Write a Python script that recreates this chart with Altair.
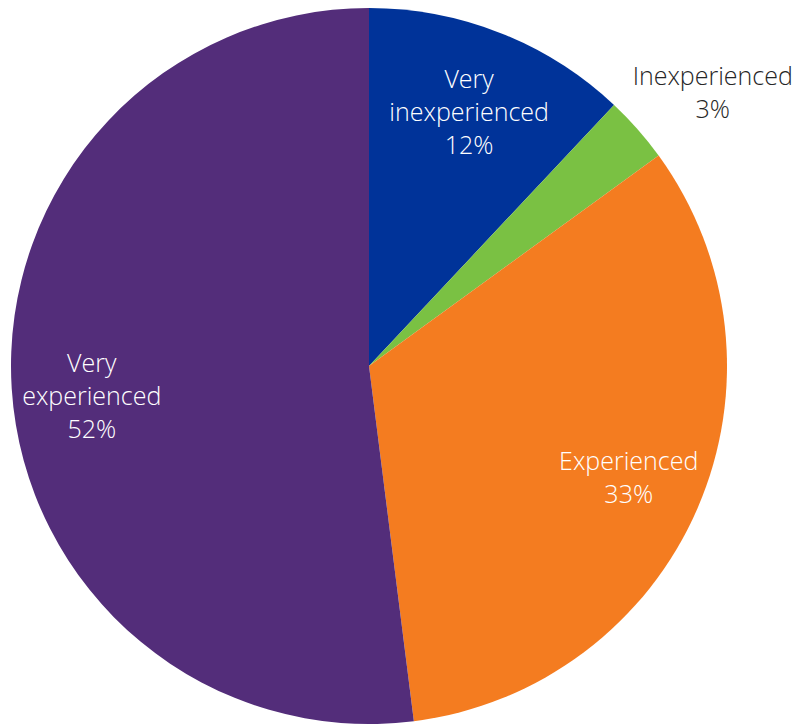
import altair as alt
import pandas as pd

categories = ["Very inexperienced", "Inexperienced", "Experienced", "Very experienced"]
labels = ["Very\ninexperienced\n12%", "Inexperienced\n3%", "Experienced\n33%", "Very\nexperienced\n52%"]
values = [12, 3, 33, 52]
colors = ["#003399", "#7AC143", "#F47C20", "#532D7A"]
order = [0, 1, 2, 3]

df = pd.DataFrame({"category": categories, "label": labels, "value": values, "order": order})

base = alt.Chart(df).encode(
    theta=alt.Theta("value:Q", stack=True),
    order=alt.Order("order:Q"),
)

pie = base.mark_arc(radius=358, stroke=None).encode(
    color=alt.Color("category:N", scale=alt.Scale(domain=categories, range=colors), legend=None)
)

text_style = dict(lineBreak="\n", lineHeight=33, fontSize=25, font="Open Sans",
                  fontWeight=300, align="center", baseline="middle")


def label_layer(names, radius, dy, color, theta_offset=0.0):
    test = alt.FieldOneOfPredicate(field="category", oneOf=names)
    return base.mark_text(radius=radius, dy=dy, color=color, thetaOffset=theta_offset,
                          **text_style).encode(
        text=alt.condition(test, "label:N", alt.value(""))
    )


very_inexp = label_layer(["Very inexperienced"], 272, -33, "white")
very_exp = label_layer(["Very experienced"], 279, -33, "white", -0.049)
exp = label_layer(["Experienced"], 283, -16.5, "white")
inexp = label_layer(["Inexperienced"], 436, -21, "#262626", 0.06)

chart = alt.layer(pie, very_inexp, very_exp, exp, inexp).properties(
    width=722, height=716,
    padding={"left": 0, "top": 0, "right": 66, "bottom": 0},
    autosize=alt.AutoSizeParams(type="none"),
).configure_view(stroke=None)

chart.save("out.html", embed_options={"renderer": "svg", "actions": False})
